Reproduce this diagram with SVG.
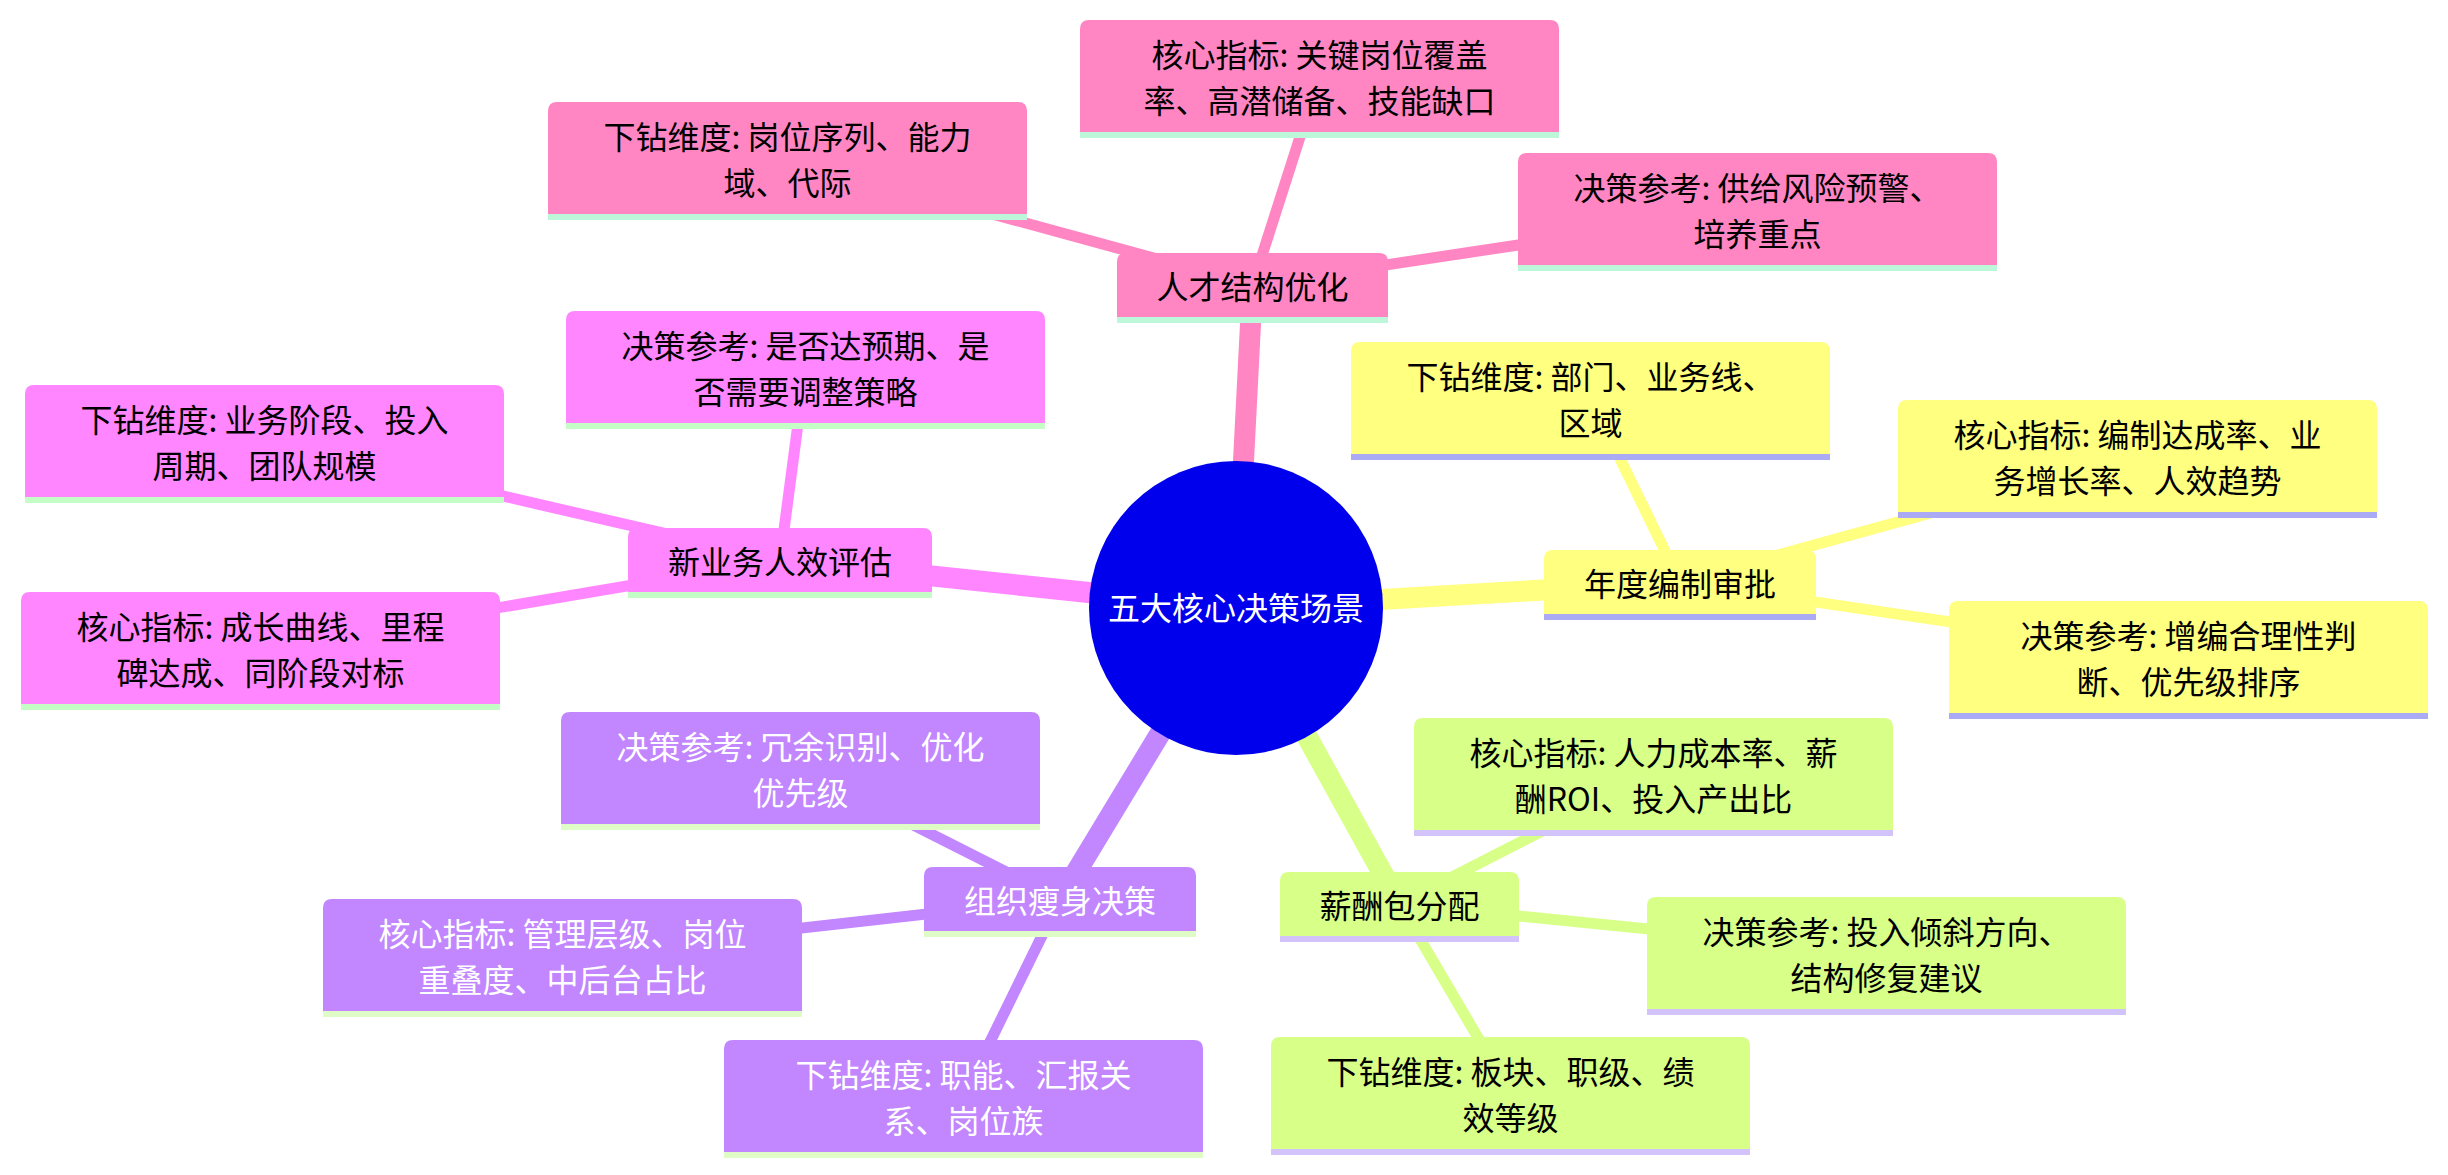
<svg xmlns="http://www.w3.org/2000/svg" width="2448" height="1175" viewBox="0 0 2448 1175">
<style>
text{font-family:"Noto Sans CJK SC","Noto Sans",sans-serif;font-size:32px;text-anchor:middle}
.dark{fill:#000}
.light{fill:#fff}
.e0{stroke-width:21;stroke-linecap:butt;fill:none}
.e1{stroke-width:11;stroke-linecap:butt;fill:none}
.pk{fill:#ff86c2}.pkl{fill:#bdf7da}.pke{stroke:#ff86c2}
.ye{fill:#ffff80}.yel{fill:#aaaaf5}.yee{stroke:#ffff80}
.gr{fill:#d8ff87}.grl{fill:#d2c4fb}.gre{stroke:#d8ff87}
.pu{fill:#c286ff}.pul{fill:#e0fcc6}.pue{stroke:#c286ff}
.mg{fill:#ff86ff}.mgl{fill:#c4fdc6}.mge{stroke:#ff86ff}
</style>
<defs>
<path id="cb" d="M0,112 V9 Q0,0 9,0 H470 Q479,0 479,9 V112 Z"/>
<rect id="cl" x="0" y="112" width="479" height="6"/>
</defs>
<rect width="2448" height="1175" fill="#fff"/>
<g id="connectors">
<line class="e0 pke" x1="1236" y1="608" x2="1252.5" y2="285"/>
<line class="e0 yee" x1="1236" y1="608" x2="1680" y2="582"/>
<line class="e0 gre" x1="1236" y1="608" x2="1399.5" y2="904"/>
<line class="e0 pue" x1="1236" y1="608" x2="1060" y2="899"/>
<line class="e0 mge" x1="1236" y1="608" x2="780" y2="560"/>
<line class="e1 pke" x1="1252.5" y1="285" x2="1319.5" y2="76"/>
<line class="e1 pke" x1="1252.5" y1="285" x2="787.5" y2="158"/>
<line class="e1 pke" x1="1252.5" y1="285" x2="1757.5" y2="209"/>
<line class="e1 yee" x1="1680" y1="582" x2="1590.5" y2="398"/>
<line class="e1 yee" x1="1680" y1="582" x2="2137.5" y2="456"/>
<line class="e1 yee" x1="1680" y1="582" x2="2188.5" y2="657"/>
<line class="e1 gre" x1="1399.5" y1="904" x2="1653.5" y2="774"/>
<line class="e1 gre" x1="1399.5" y1="904" x2="1886.5" y2="953"/>
<line class="e1 gre" x1="1399.5" y1="904" x2="1510.5" y2="1093"/>
<line class="e1 pue" x1="1060" y1="899" x2="800.5" y2="768"/>
<line class="e1 pue" x1="1060" y1="899" x2="562.5" y2="955"/>
<line class="e1 pue" x1="1060" y1="899" x2="963.5" y2="1096"/>
<line class="e1 mge" x1="780" y1="560" x2="805.5" y2="367"/>
<line class="e1 mge" x1="780" y1="560" x2="264.5" y2="441"/>
<line class="e1 mge" x1="780" y1="560" x2="260.5" y2="648"/>
</g>
<g id="root">
<circle cx="1236" cy="608" r="147" fill="#0000ec"/>
<text class="light" x="1236" y="620">五大核心决策场景</text>
</g>
<!-- Pink section -->
<g id="n-talent" transform="translate(1117,253)">
<path class="pk" d="M0,64 V9 Q0,0 9,0 H262 Q271,0 271,9 V64 Z"/>
<rect class="pkl" x="0" y="64" width="271" height="6"/>
<text class="dark" x="135.5" y="46">人才结构优化</text>
</g>
<g id="n-talent-kpi" transform="translate(1080,20)">
<use href="#cb" class="pk"/><use href="#cl" class="pkl"/>
<text class="dark" x="239.5" y="47">核心指标: 关键岗位覆盖</text>
<text class="dark" x="239.5" y="93">率、高潜储备、技能缺口</text>
</g>
<g id="n-talent-drill" transform="translate(548,102)">
<use href="#cb" class="pk"/><use href="#cl" class="pkl"/>
<text class="dark" x="239.5" y="47">下钻维度: 岗位序列、能力</text>
<text class="dark" x="239.5" y="93">域、代际</text>
</g>
<g id="n-talent-ref" transform="translate(1518,153)">
<use href="#cb" class="pk"/><use href="#cl" class="pkl"/>
<text class="dark" x="239.5" y="47">决策参考: 供给风险预警、</text>
<text class="dark" x="239.5" y="93">培养重点</text>
</g>
<!-- Yellow section -->
<g id="n-annual" transform="translate(1544,550)">
<path class="ye" d="M0,64 V9 Q0,0 9,0 H263 Q272,0 272,9 V64 Z"/>
<rect class="yel" x="0" y="64" width="272" height="6"/>
<text class="dark" x="136" y="46">年度编制审批</text>
</g>
<g id="n-annual-drill" transform="translate(1351,342)">
<use href="#cb" class="ye"/><use href="#cl" class="yel"/>
<text class="dark" x="239.5" y="47">下钻维度: 部门、业务线、</text>
<text class="dark" x="239.5" y="93">区域</text>
</g>
<g id="n-annual-kpi" transform="translate(1898,400)">
<use href="#cb" class="ye"/><use href="#cl" class="yel"/>
<text class="dark" x="239.5" y="47">核心指标: 编制达成率、业</text>
<text class="dark" x="239.5" y="93">务增长率、人效趋势</text>
</g>
<g id="n-annual-ref" transform="translate(1949,601)">
<use href="#cb" class="ye"/><use href="#cl" class="yel"/>
<text class="dark" x="239.5" y="47">决策参考: 增编合理性判</text>
<text class="dark" x="239.5" y="93">断、优先级排序</text>
</g>
<!-- Green section -->
<g id="n-pay" transform="translate(1280,872)">
<path class="gr" d="M0,64 V9 Q0,0 9,0 H230 Q239,0 239,9 V64 Z"/>
<rect class="grl" x="0" y="64" width="239" height="6"/>
<text class="dark" x="119.5" y="46">薪酬包分配</text>
</g>
<g id="n-pay-kpi" transform="translate(1414,718)">
<use href="#cb" class="gr"/><use href="#cl" class="grl"/>
<text class="dark" x="239.5" y="47">核心指标: 人力成本率、薪</text>
<text class="dark" x="239.5" y="93">酬ROI、投入产出比</text>
</g>
<g id="n-pay-ref" transform="translate(1647,897)">
<use href="#cb" class="gr"/><use href="#cl" class="grl"/>
<text class="dark" x="239.5" y="47">决策参考: 投入倾斜方向、</text>
<text class="dark" x="239.5" y="93">结构修复建议</text>
</g>
<g id="n-pay-drill" transform="translate(1271,1037)">
<use href="#cb" class="gr"/><use href="#cl" class="grl"/>
<text class="dark" x="239.5" y="47">下钻维度: 板块、职级、绩</text>
<text class="dark" x="239.5" y="93">效等级</text>
</g>
<!-- Purple section -->
<g id="n-slim" transform="translate(924,867)">
<path class="pu" d="M0,64 V9 Q0,0 9,0 H263 Q272,0 272,9 V64 Z"/>
<rect class="pul" x="0" y="64" width="272" height="6"/>
<text class="light" x="136" y="46">组织瘦身决策</text>
</g>
<g id="n-slim-ref" transform="translate(561,712)">
<use href="#cb" class="pu"/><use href="#cl" class="pul"/>
<text class="light" x="239.5" y="47">决策参考: 冗余识别、优化</text>
<text class="light" x="239.5" y="93">优先级</text>
</g>
<g id="n-slim-kpi" transform="translate(323,899)">
<use href="#cb" class="pu"/><use href="#cl" class="pul"/>
<text class="light" x="239.5" y="47">核心指标: 管理层级、岗位</text>
<text class="light" x="239.5" y="93">重叠度、中后台占比</text>
</g>
<g id="n-slim-drill" transform="translate(724,1040)">
<use href="#cb" class="pu"/><use href="#cl" class="pul"/>
<text class="light" x="239.5" y="47">下钻维度: 职能、汇报关</text>
<text class="light" x="239.5" y="93">系、岗位族</text>
</g>
<!-- Magenta section -->
<g id="n-newbiz" transform="translate(628,528)">
<path class="mg" d="M0,64 V9 Q0,0 9,0 H295 Q304,0 304,9 V64 Z"/>
<rect class="mgl" x="0" y="64" width="304" height="6"/>
<text class="dark" x="152" y="46">新业务人效评估</text>
</g>
<g id="n-newbiz-ref" transform="translate(566,311)">
<use href="#cb" class="mg"/><use href="#cl" class="mgl"/>
<text class="dark" x="239.5" y="47">决策参考: 是否达预期、是</text>
<text class="dark" x="239.5" y="93">否需要调整策略</text>
</g>
<g id="n-newbiz-drill" transform="translate(25,385)">
<use href="#cb" class="mg"/><use href="#cl" class="mgl"/>
<text class="dark" x="239.5" y="47">下钻维度: 业务阶段、投入</text>
<text class="dark" x="239.5" y="93">周期、团队规模</text>
</g>
<g id="n-newbiz-kpi" transform="translate(21,592)">
<use href="#cb" class="mg"/><use href="#cl" class="mgl"/>
<text class="dark" x="239.5" y="47">核心指标: 成长曲线、里程</text>
<text class="dark" x="239.5" y="93">碑达成、同阶段对标</text>
</g>
</svg>
